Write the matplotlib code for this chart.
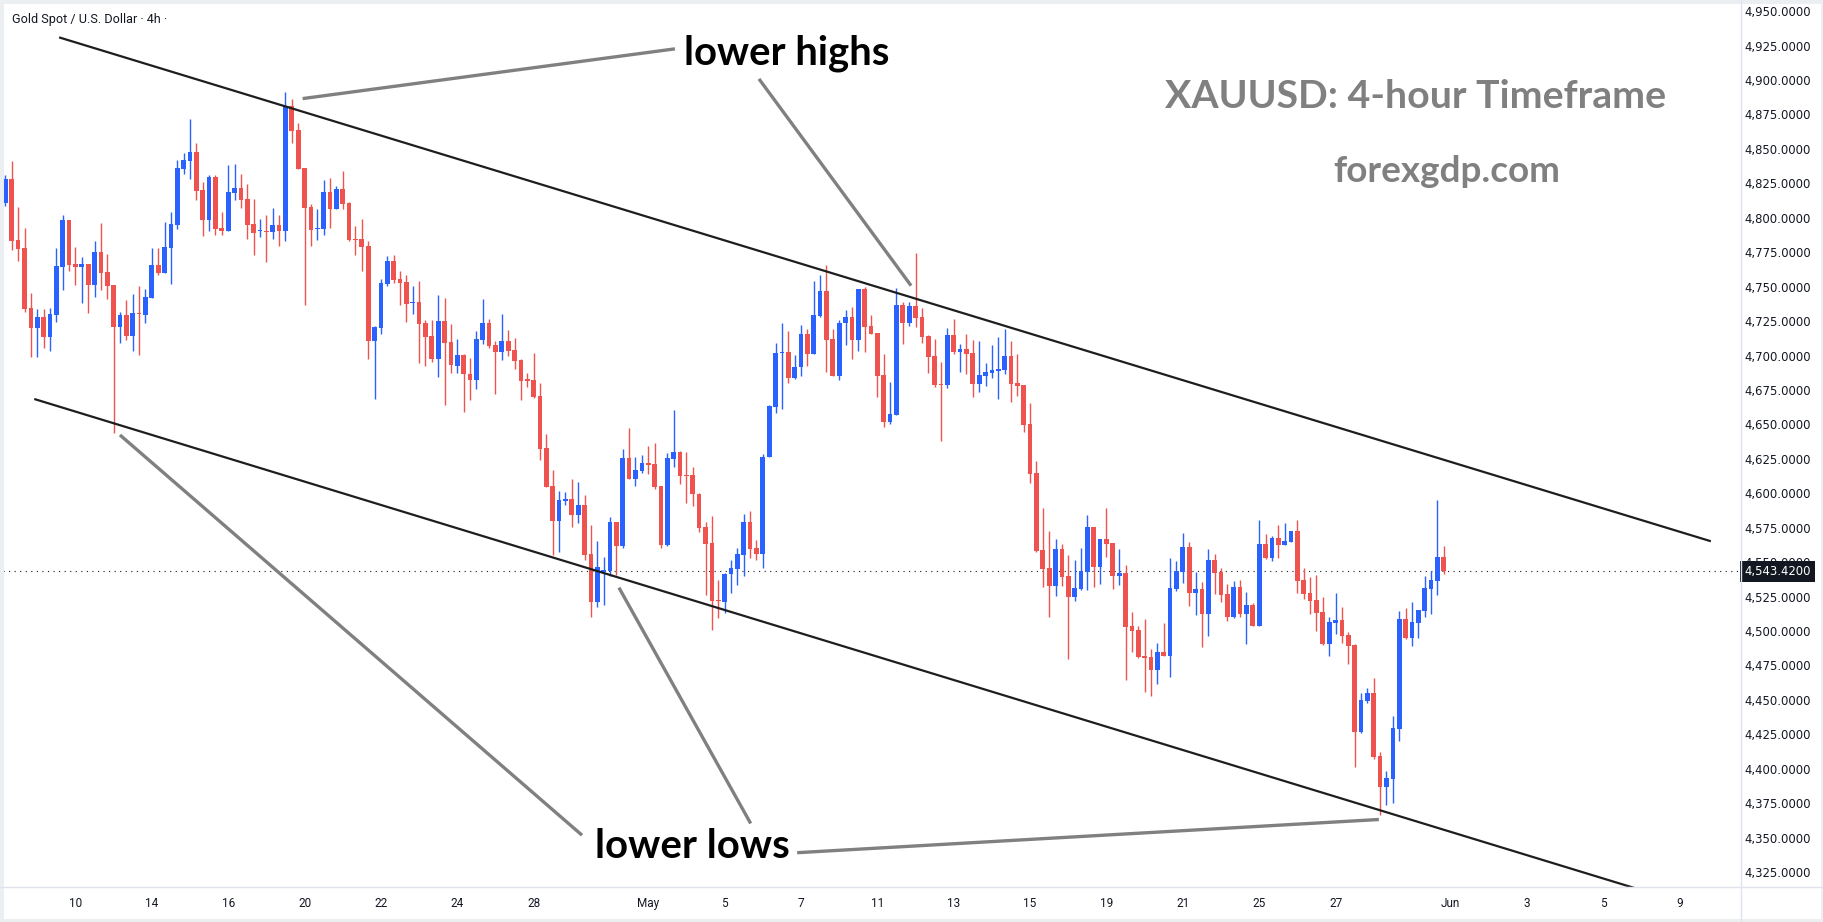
import matplotlib
matplotlib.use("Agg")
import matplotlib.pyplot as plt
from matplotlib.lines import Line2D
from matplotlib.patches import Rectangle
import numpy as np
import pandas as pd

# XAUUSD 4h candles, last 5 bars of Apr 8 through May 29
opens = [4810.5, 4828.2, 4783.9, 4778.1, 4734.5, 4720.2, 4728.0, 4713.7, 4729.7, 4764.5,
         4798.4, 4766.5, 4764.5, 4766.5, 4751.4, 4775.2, 4760.6, 4751.2, 4720.9, 4729.7,
         4714.4, 4730.9, 4729.7, 4742.0, 4765.7, 4760.1, 4778.3, 4795.0, 4835.6, 4841.2,
         4847.8, 4820.2, 4798.6, 4829.6, 4792.6, 4790.6, 4818.0, 4821.6, 4813.6, 4795.5,
         4790.2, 4790.6, 4789.9, 4794.8, 4790.6, 4881.1, 4863.7, 4836.2, 4807.8, 4792.1,
         4792.1, 4818.7, 4806.6, 4820.9, 4810.7, 4784.8, 4784.8, 4779.5, 4710.8, 4720.2,
         4752.2, 4768.6, 4755.8, 4753.4, 4738.4, 4738.9, 4723.8, 4714.4, 4697.7, 4725.1,
         4710.0, 4692.6, 4700.4, 4686.6, 4682.0, 4711.5, 4723.6, 4707.7, 4702.8, 4710.6,
         4704.0, 4697.0, 4682.5, 4682.2, 4670.6, 4632.9, 4605.3, 4580.1, 4594.6, 4595.7,
         4584.5, 4591.5, 4556.0, 4521.3, 4543.1, 4543.6, 4579.2, 4562.0, 4625.6, 4610.4,
         4616.4, 4621.8, 4621.3, 4605.3, 4562.5, 4625.1, 4630.0, 4613.5, 4613.3, 4599.5,
         4575.5, 4563.9, 4522.5, 4521.3, 4541.4, 4545.3, 4555.4, 4579.2, 4560.3, 4556.2,
         4626.1, 4662.9, 4701.9, 4702.6, 4683.9, 4691.5, 4715.6, 4701.4, 4728.9, 4746.9,
         4712.0, 4685.4, 4723.6, 4728.0, 4711.5, 4748.3, 4721.4, 4716.4, 4685.9, 4652.0,
         4656.8, 4736.7, 4723.8, 4736.0, 4728.0, 4714.2, 4699.7, 4679.3, 4678.6, 4714.9,
         4702.6, 4704.8, 4701.9, 4679.3, 4685.4, 4687.5, 4689.0, 4689.5, 4699.7, 4680.1,
         4678.6, 4650.3, 4614.7, 4558.8, 4545.8, 4532.9, 4559.6, 4540.0, 4524.9, 4530.8,
         4543.1, 4575.6, 4546.5, 4566.8, 4563.9, 4540.0, 4542.2, 4503.7, 4500.8, 4481.9,
         4481.2, 4471.7, 4484.8, 4481.9, 4530.5, 4543.1, 4561.0, 4527.6, 4530.5, 4512.4,
         4551.6, 4542.9, 4526.9, 4510.2, 4532.0, 4512.4, 4518.9, 4503.7, 4563.2, 4552.8,
         4567.5, 4562.5, 4564.7, 4572.6, 4537.1, 4527.6, 4522.6, 4513.8, 4490.6, 4505.9,
         4508.0, 4497.1, 4489.9, 4426.7, 4449.2, 4455.0, 4409.3, 4386.8, 4392.6, 4428.9,
         4508.8, 4495.0, 4505.9, 4514.6, 4530.5, 4536.4, 4553.8]
highs = [4831.1, 4841.2, 4808.1, 4792.6, 4745.2, 4733.8, 4733.8, 4734.5, 4778.1, 4802.0,
         4798.4, 4778.8, 4771.5, 4766.5, 4783.2, 4796.2, 4773.7, 4751.2, 4731.6, 4740.3,
         4744.7, 4750.5, 4748.3, 4778.1, 4778.1, 4796.9, 4804.2, 4842.0, 4847.0, 4871.7,
         4854.3, 4826.0, 4831.3, 4831.3, 4804.2, 4838.5, 4839.0, 4831.8, 4824.5, 4813.6,
         4799.1, 4802.0, 4807.1, 4802.0, 4891.5, 4886.2, 4868.8, 4836.2, 4810.0, 4806.4,
         4827.4, 4828.9, 4823.1, 4834.0, 4811.7, 4794.1, 4799.1, 4783.4, 4721.4, 4755.8,
         4772.3, 4773.2, 4761.6, 4758.7, 4750.5, 4754.3, 4726.0, 4726.0, 4744.0, 4742.0,
         4722.9, 4712.0, 4701.1, 4698.0, 4717.8, 4741.1, 4726.5, 4710.6, 4730.2, 4718.5,
         4712.7, 4697.7, 4687.3, 4701.9, 4680.3, 4643.1, 4616.9, 4601.7, 4601.2, 4610.2,
         4608.2, 4598.8, 4577.0, 4565.6, 4554.0, 4583.0, 4579.2, 4632.2, 4647.4, 4626.6,
         4628.0, 4634.6, 4636.8, 4605.3, 4629.3, 4660.5, 4630.5, 4630.0, 4619.1, 4600.0,
         4579.2, 4583.5, 4537.1, 4542.0, 4551.6, 4560.5, 4585.2, 4587.2, 4566.1, 4628.3,
         4664.1, 4709.1, 4723.6, 4717.8, 4700.4, 4722.4, 4719.3, 4754.1, 4758.5, 4765.7,
         4719.3, 4725.8, 4733.1, 4735.2, 4748.3, 4750.0, 4729.4, 4716.4, 4701.1, 4681.0,
         4748.8, 4739.1, 4738.9, 4774.2, 4734.3, 4714.9, 4712.0, 4695.3, 4720.0, 4726.5,
         4708.4, 4715.6, 4711.3, 4710.6, 4694.6, 4707.7, 4713.5, 4719.3, 4710.6, 4701.1,
         4678.6, 4665.6, 4623.5, 4589.6, 4572.6, 4566.8, 4563.2, 4555.2, 4551.6, 4560.3,
         4584.3, 4575.6, 4566.8, 4589.3, 4563.9, 4559.6, 4548.0, 4513.8, 4503.7, 4508.8,
         4487.0, 4491.3, 4505.9, 4553.0, 4550.9, 4571.2, 4564.7, 4542.9, 4535.6, 4559.6,
         4556.0, 4545.8, 4534.2, 4536.4, 4537.1, 4528.4, 4520.4, 4580.6, 4570.5, 4569.0,
         4577.0, 4578.5, 4572.6, 4580.6, 4545.8, 4539.3, 4540.7, 4524.7, 4510.2, 4527.6,
         4517.5, 4499.3, 4490.6, 4455.0, 4458.7, 4465.9, 4412.2, 4398.4, 4438.4, 4514.6,
         4516.8, 4521.1, 4515.3, 4540.0, 4543.6, 4595.2, 4561.8]
lows = [4808.6, 4776.6, 4768.9, 4731.8, 4699.2, 4699.2, 4705.7, 4703.5, 4724.6, 4747.6,
        4761.6, 4751.2, 4738.4, 4731.1, 4742.7, 4747.6, 4741.3, 4644.0, 4709.3, 4711.5,
        4703.5, 4700.6, 4723.8, 4742.0, 4758.7, 4760.1, 4752.2, 4792.1, 4831.8, 4828.2,
        4812.9, 4787.0, 4790.6, 4787.7, 4787.7, 4790.6, 4812.9, 4807.3, 4784.8, 4773.2,
        4786.3, 4768.1, 4784.8, 4779.7, 4783.4, 4854.5, 4835.2, 4736.7, 4779.5, 4784.1,
        4787.7, 4792.6, 4806.6, 4806.6, 4783.4, 4773.2, 4761.6, 4697.7, 4668.7, 4715.9,
        4750.7, 4752.9, 4736.9, 4724.6, 4730.4, 4694.8, 4692.6, 4695.5, 4684.6, 4664.3,
        4687.1, 4687.1, 4658.8, 4667.5, 4675.5, 4708.2, 4705.7, 4672.3, 4697.0, 4699.9,
        4690.0, 4667.9, 4677.4, 4669.4, 4624.4, 4604.8, 4555.4, 4557.6, 4591.7, 4575.8,
        4578.2, 4551.6, 4510.4, 4517.7, 4518.7, 4540.0, 4540.7, 4560.3, 4610.4, 4605.5,
        4615.0, 4614.2, 4603.3, 4560.5, 4562.0, 4619.3, 4607.0, 4593.2, 4591.0, 4572.1,
        4526.4, 4500.8, 4509.7, 4513.3, 4527.9, 4533.7, 4540.2, 4553.3, 4551.8, 4546.0,
        4626.1, 4658.1, 4661.0, 4679.9, 4682.8, 4685.4, 4692.6, 4701.4, 4727.8, 4688.3,
        4685.4, 4682.2, 4707.7, 4697.5, 4703.3, 4702.8, 4715.9, 4670.1, 4648.4, 4650.1,
        4656.8, 4708.4, 4721.4, 4720.9, 4709.3, 4687.5, 4677.4, 4638.2, 4676.7, 4701.1,
        4688.1, 4686.8, 4670.1, 4673.5, 4678.1, 4683.9, 4668.7, 4686.8, 4666.5, 4670.9,
        4644.7, 4607.7, 4557.6, 4532.2, 4510.4, 4525.7, 4532.9, 4479.9, 4522.0, 4530.0,
        4530.0, 4532.0, 4534.4, 4554.0, 4530.5, 4533.7, 4464.5, 4484.8, 4480.4, 4455.8,
        4452.9, 4461.6, 4481.9, 4466.7, 4529.1, 4534.9, 4518.2, 4511.7, 4488.4, 4496.4,
        4526.9, 4521.1, 4507.3, 4509.5, 4510.2, 4490.6, 4503.7, 4503.7, 4552.1, 4551.1,
        4553.0, 4562.5, 4564.7, 4527.6, 4523.3, 4512.4, 4500.1, 4489.9, 4481.9, 4497.9,
        4491.3, 4476.1, 4401.3, 4426.0, 4447.8, 4407.1, 4366.5, 4373.7, 4375.2, 4420.2,
        4494.3, 4489.2, 4495.0, 4510.2, 4512.4, 4526.2, 4541.4]
closes = [4827.9, 4783.4, 4777.3, 4733.8, 4720.2, 4728.0, 4713.7, 4730.2, 4765.0, 4798.4,
          4765.7, 4764.5, 4766.5, 4751.4, 4775.2, 4760.1, 4750.7, 4720.9, 4729.7, 4714.4,
          4730.9, 4730.4, 4742.5, 4765.7, 4760.1, 4778.8, 4795.5, 4836.2, 4842.0, 4847.8,
          4819.7, 4798.6, 4829.6, 4792.1, 4790.6, 4818.7, 4821.6, 4813.1, 4795.0, 4789.2,
          4790.6, 4789.9, 4794.8, 4790.6, 4881.1, 4863.2, 4835.6, 4807.3, 4791.4, 4792.6,
          4818.7, 4806.6, 4820.9, 4810.2, 4784.1, 4784.1, 4779.0, 4710.8, 4720.9, 4752.7,
          4768.6, 4755.1, 4752.9, 4737.7, 4739.1, 4723.1, 4713.7, 4697.7, 4725.1, 4709.3,
          4693.1, 4700.4, 4686.4, 4682.0, 4712.0, 4723.6, 4707.2, 4702.8, 4710.6, 4703.3,
          4696.3, 4681.8, 4681.8, 4669.9, 4632.4, 4604.8, 4580.1, 4595.2, 4595.7, 4584.5,
          4591.5, 4555.4, 4521.3, 4546.5, 4544.1, 4579.2, 4562.0, 4625.6, 4610.4, 4616.7,
          4621.8, 4620.8, 4604.8, 4562.5, 4625.6, 4630.0, 4612.8, 4612.8, 4599.3, 4575.0,
          4563.4, 4522.0, 4522.0, 4541.4, 4545.8, 4556.0, 4579.2, 4559.8, 4556.2, 4626.1,
          4663.4, 4701.9, 4702.8, 4683.9, 4691.5, 4715.6, 4701.4, 4729.4, 4746.9, 4711.5,
          4685.4, 4723.6, 4728.0, 4711.5, 4748.3, 4720.9, 4715.9, 4685.4, 4652.0, 4657.6,
          4736.7, 4723.8, 4736.0, 4727.5, 4713.7, 4699.2, 4678.6, 4678.6, 4714.9, 4702.6,
          4704.8, 4701.4, 4679.3, 4685.9, 4688.1, 4689.5, 4690.2, 4699.7, 4679.3, 4678.1,
          4649.8, 4614.2, 4558.3, 4545.3, 4532.9, 4559.6, 4539.5, 4524.9, 4531.3, 4543.6,
          4575.6, 4546.5, 4566.8, 4563.2, 4540.0, 4542.2, 4503.2, 4500.1, 4481.2, 4480.4,
          4471.7, 4484.8, 4481.9, 4531.3, 4543.6, 4561.0, 4527.6, 4530.5, 4512.4, 4551.6,
          4542.2, 4526.2, 4510.2, 4532.0, 4512.4, 4518.9, 4503.7, 4563.2, 4552.8, 4567.5,
          4562.5, 4565.4, 4572.6, 4536.6, 4526.9, 4521.8, 4513.1, 4490.6, 4506.6, 4508.0,
          4496.4, 4489.2, 4426.7, 4449.8, 4455.0, 4408.6, 4386.8, 4393.3, 4429.6, 4508.8,
          4495.0, 4506.6, 4515.3, 4531.3, 4537.1, 4553.8, 4543.42]

last_price = 4543.42

# trading days on the time axis (6 bars a day, first day only partly shown)
sessions = pd.bdate_range("2026-04-08", "2026-06-10")
labelled_days = ["2026-04-10", "2026-04-14", "2026-04-16", "2026-04-20", "2026-04-22",
                 "2026-04-24", "2026-04-28", "2026-05-01", "2026-05-05", "2026-05-07",
                 "2026-05-11", "2026-05-13", "2026-05-15", "2026-05-19", "2026-05-21",
                 "2026-05-25", "2026-05-27", "2026-06-01", "2026-06-03", "2026-06-05",
                 "2026-06-09"]

price_ticks = np.arange(4325, 4951, 25)

# drawn channel lines: (bar index, price) end points
upper_x, upper_y = [8.6, 267.8], [4930.7, 4565.4]
lower_x, lower_y = [4.7, 266.2], [4668.2, 4299.0]

# grey pointer lines
pointers = [
    ([46.7, 105.2], [4886.5, 4922.6]),
    ([118.4, 142.3], [4900.8, 4750.7]),
    ([18.0, 90.6], [4642.3, 4351.8]),
    ([96.4, 117.1], [4531.5, 4360.3]),
    ([124.4, 215.8], [4339.1, 4363.2]),
]

blue = "#2962ff"
red = "#ef5350"
ink = "#131722"

W, H = 1824, 922
fig = plt.figure(figsize=(W / 100, H / 100), dpi=100)
fig.patch.set_facecolor("white")
left, right, top, bottom = 3.5, 1741, 2.7, 887
ax = fig.add_axes([left / W, 1 - bottom / H, (right - left) / W, (bottom - top) / H])

o = np.array(opens)
h = np.array(highs)
l = np.array(lows)
c = np.array(closes)
x = np.arange(len(o))
colors = np.where(c >= o, blue, red)

ax.vlines(x, l, h, colors=colors, lw=1.0, zorder=2)
body_low = np.minimum(o, c)
body_h = np.maximum(np.abs(c - o), 0.8)
ax.bar(x, body_h, bottom=body_low, width=0.74, color=colors, linewidth=0, zorder=3)

# last price dotted line
ax.axhline(last_price, color=ink, lw=0.8, linestyle=(0, (1, 4)), zorder=1)

# channel
ax.plot(upper_x, upper_y, color="#1e1e1e", lw=1.6, zorder=4)
ax.plot(lower_x, lower_y, color="#1e1e1e", lw=1.6, zorder=4)
for px, py in pointers:
    ax.plot(px, py, color="#808080", lw=2.4, solid_capstyle="butt", zorder=4)

ax.text(122.8, 4911.6, "lower highs", ha="center", va="baseline", fontsize=28.8,
        fontweight="bold", family="Lato", color="black", zorder=6)
ax.text(107.9, 4335.3, "lower lows", ha="center", va="baseline", fontsize=28.9,
        fontweight="bold", family="Lato", color="black", zorder=6)

ax.set_xlim(-0.3, 272.7)
ax.set_ylim(4314.2, 4956.1)

# axes
day_index = {d: i for i, d in enumerate(sessions.strftime("%Y-%m-%d"))}
tick_pos = [6 * day_index[d] - 1 for d in labelled_days]
tick_lab = []
for d in labelled_days:
    ts = pd.Timestamp(d)
    tick_lab.append(ts.strftime("%b") if ts.day == 1 else str(ts.day))
ax.set_xticks(tick_pos)
ax.set_xticklabels(tick_lab, family="Roboto")
ax.yaxis.tick_right()
ax.set_yticks(price_ticks)
ax.set_yticklabels(["{:,.4f}".format(v) for v in price_ticks])
ax.tick_params(axis="y", length=0, pad=2.2, labelsize=8.4, labelcolor=ink)
ax.tick_params(axis="x", length=0, pad=7, labelsize=8.5, labelcolor=ink)
for s in ax.spines.values():
    s.set_visible(False)

ax.annotate("{:,.4f}".format(last_price), xy=(1, last_price),
            xycoords=("axes fraction", "data"), xytext=(2.2, 0),
            textcoords="offset points", ha="left", va="center", fontsize=8.4,
            color="white", annotation_clip=False, zorder=10,
            bbox=dict(boxstyle="square,pad=0.35", fc=ink, ec="none"))

# separators and frame
fig.add_artist(Line2D([right / W] * 2, [0, 1], transform=fig.transFigure, color="#e0e3eb", lw=1))
fig.add_artist(Line2D([0, 1], [1 - bottom / H] * 2, transform=fig.transFigure, color="#e0e3eb", lw=1))
fig.add_artist(Rectangle((0, 0), 1, 1, transform=fig.transFigure, fill=False,
                         edgecolor="#eceff2", lw=5))

fig.text(12 / W, 1 - 22.5 / H, "Gold Spot / U.S. Dollar \u00b7 4h \u00b7", ha="left",
         va="baseline", fontsize=9.1, family="Roboto", color=ink)
fig.text(1415.5 / W, 1 - 107.5 / H, "XAUUSD: 4-hour Timeframe", ha="center", va="baseline",
         fontsize=28.3, fontweight="bold", family="Lato", color="#808080")
fig.text(1447 / W, 1 - 182 / H, "forexgdp.com", ha="center", va="baseline",
         fontsize=26.6, fontweight="bold", family="Lato", color="#808080")

fig.savefig("out.png", dpi=100)
